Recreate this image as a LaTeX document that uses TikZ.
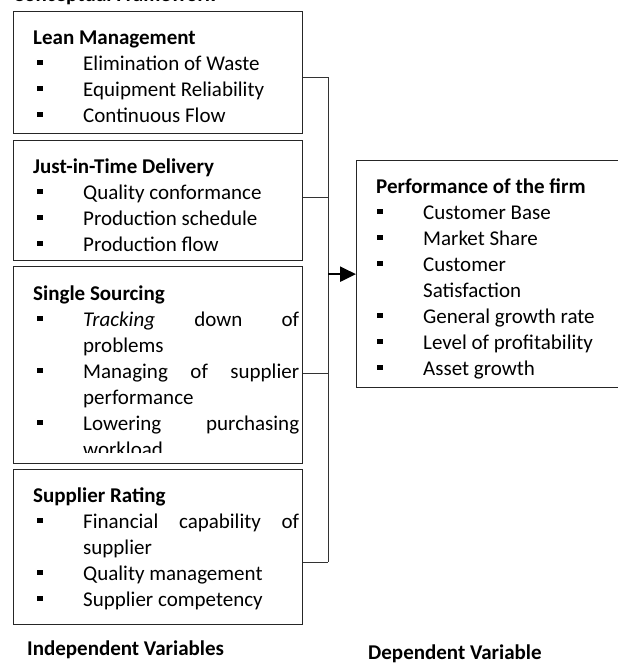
\documentclass[tikz,border=0pt]{standalone}
\usepackage{fontspec}
\setmainfont{Carlito}
\usetikzlibrary{arrows.meta}

\newcommand{\sqbul}{\raisebox{5pt}{\rule{5.5pt}{5.5pt}}}
\newcommand{\hdline}[1]{\rule{0pt}{33pt}\textbf{#1}}
\newcommand{\bulline}[2][4pt]{\hspace*{#1}\sqbul\hspace*{40.5pt}#2}
\newcommand{\contline}[2][4pt]{\hspace*{\dimexpr#1+46pt\relax}#2}
\newcommand{\justline}[1]{\makebox[216pt][s]{#1}}

\tikzset{
  framebox/.style={draw=black!85, line width=1.3pt, anchor=north west, inner sep=0pt},
  boxtext/.style={anchor=north west, inner sep=0pt, align=left,
    font=\fontsize{21}{26}\selectfont},
  link/.style={draw=black!80, line width=1pt},
  flow/.style={line width=2.4pt, -{Triangle[length=16pt,width=15pt]}},
}

\begin{document}
\begin{tikzpicture}[x=1pt,y=-1pt]
    \useasboundingbox (0,0) rectangle (618,664);
    % title, cut off at the top of the page
    \node[anchor=base west, inner sep=0pt, font=\fontsize{21}{26}\selectfont\bfseries] (title) at (13,1.5) {Conceptual Framework};

    % independent variables
    \node[framebox, minimum width=289, minimum height=122] (lean) at (13,11) {};
    \node[framebox, minimum width=289, minimum height=120] (jit) at (13,140) {};
    \node[framebox, minimum width=289, minimum height=197] (single) at (13,266) {};
    \node[framebox, minimum width=289, minimum height=155] (supp) at (13,469) {};

    \node[boxtext] (leantxt) at ([xshift=20pt]lean.north west) {\hdline{Lean Management}\\
        \bulline{Elimination of Waste}\\
        \bulline{Equipment Reliability}\\
        \bulline{Continuous Flow}};
    \node[boxtext] (jittxt) at ([xshift=20pt]jit.north west) {\hdline{Just-in-Time Delivery}\\
        \bulline{Quality conformance}\\
        \bulline{Production schedule}\\
        \bulline{Production flow}};
    \begin{scope}
        \clip (single.north west) rectangle ([yshift=11.5pt]single.south east);
        \node[boxtext] (singletxt) at ([xshift=20pt,yshift=-1pt]single.north west) {\hdline{Single Sourcing}\\
            \bulline{\justline{\textit{Tracking} down of}}\\
            \contline{problems}\\
            \bulline{\justline{Managing of supplier}}\\
            \contline{performance}\\
            \bulline{\justline{Lowering purchasing}}\\
            \contline{workload}};
    \end{scope}
    \node[boxtext] (supptxt) at ([xshift=20pt]supp.north west) {\hdline{Supplier Rating}\\
        \bulline{\justline{Financial capability of}}\\
        \contline{supplier}\\
        \bulline{Quality management}\\
        \bulline{Supplier competency}};

    % dependent variable
    \node[framebox, minimum width=300, minimum height=227] (perf) at (356,160) {};
    \node[boxtext] (perftxt) at ([xshift=20pt]perf.north west) {\hdline{Performance of the firm}\\
        \bulline[1pt]{Customer Base}\\
        \bulline[1pt]{Market Share}\\
        \bulline[1pt]{Customer}\\
        \contline[1pt]{Satisfaction}\\
        \bulline[1pt]{General growth rate}\\
        \bulline[1pt]{Level of profitability}\\
        \bulline[1pt]{Asset growth}};

    % connectors
    \coordinate (bustop) at (328,77);
    \coordinate (busbot) at (328,562);
    \draw[link] (bustop) -- (busbot);
    \foreach \b/\dy in {lean/-5, jit/3, single/-8.5, supp/-15.5}
        \draw[link] ([yshift=\dy pt]\b.east) -- ([yshift=\dy pt]\b.east -| bustop);
    \draw[flow] (perf.west -| bustop) -- (perf.west);

    % captions
    \node[anchor=base west, inner sep=0pt, font=\fontsize{21}{26}\selectfont\bfseries] (indep) at (27,655) {Independent Variables};
    \node[anchor=base west, inner sep=0pt, font=\fontsize{21}{26}\selectfont\bfseries] (dep) at (368,659) {Dependent Variable};
\end{tikzpicture}
\end{document}
